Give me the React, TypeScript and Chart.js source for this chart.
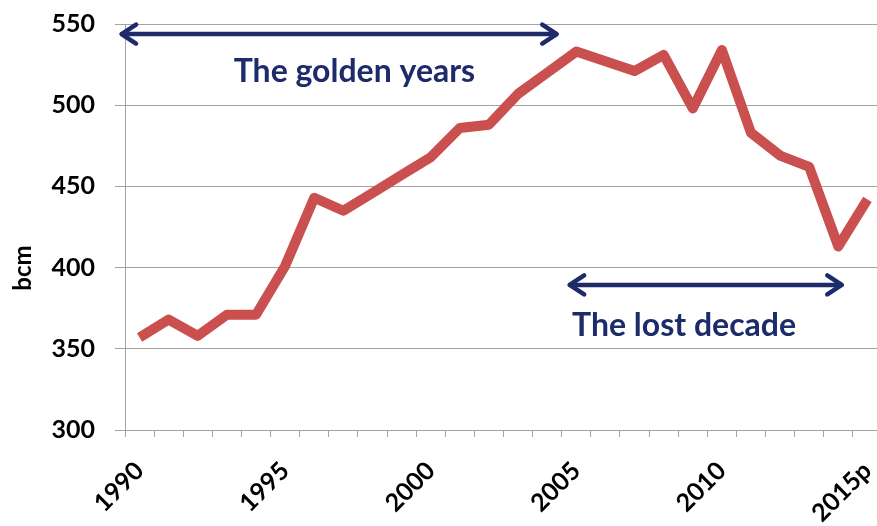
import React, { useEffect, useRef } from "react";
import { Chart, registerables } from "chart.js";

Chart.register(...registerables);

const years = [
  "1990", "1991", "1992", "1993", "1994", "1995", "1996", "1997", "1998", "1999",
  "2000", "2001", "2002", "2003", "2004", "2005", "2006", "2007", "2008", "2009",
  "2010", "2011", "2012", "2013", "2014", "2015p",
];
const production = [
  357, 368, 358, 371, 371, 401, 443, 435, 446, 457,
  468, 486, 488, 507, 520, 533, 527, 521, 531, 498,
  534, 483, 469, 462, 413, 442,
];
const yTicks = [300, 350, 400, 450, 500, 550];
const axisTitle = "bcm";

// annotation arrows (category-index span at a value) and their captions
const golden = { from: -0.67, to: 14.38, value: 543.8, label: "The golden years", labelAt: 7.38, labelValue: 514.3 };
const lost = { from: 14.72, to: 24.17, value: 389.3, label: "The lost decade", labelAt: 18.7, labelValue: 358 };

const NAVY = "#1d2b6a";
const RED = "#c9504f";
const GRID = "#a3a3a3";
const FONT = "Lato, 'Open Sans', sans-serif";

function drawArrow(ctx: CanvasRenderingContext2D, x1: number, x2: number, y: number) {
  ctx.save();
  ctx.strokeStyle = NAVY;
  ctx.lineWidth = 4.5;
  ctx.lineCap = "round";
  ctx.lineJoin = "round";
  ctx.beginPath();
  ctx.moveTo(x1 + 2, y);
  ctx.lineTo(x2 - 2, y);
  ctx.stroke();
  const h = 16, w = 9.5;
  ctx.beginPath();
  ctx.moveTo(x1 + h, y - w);
  ctx.lineTo(x1 + 1.5, y);
  ctx.lineTo(x1 + h, y + w);
  ctx.moveTo(x2 - h, y - w);
  ctx.lineTo(x2 - 1.5, y);
  ctx.lineTo(x2 - h, y + w);
  ctx.stroke();
  ctx.restore();
}

const annotationPlugin = {
  id: "annotations",
  afterDatasetsDraw(chart: any) {
    const ctx = chart.ctx as CanvasRenderingContext2D;
    const xs = chart.scales.x;
    const ys = chart.scales.y;
    for (const a of [golden, lost]) {
      const x1 = xs.getPixelForValue(a.from);
      const x2 = xs.getPixelForValue(a.to);
      const y = ys.getPixelForValue(a.value);
      drawArrow(ctx, x1, x2, y);
      ctx.save();
      ctx.fillStyle = NAVY;
      ctx.font = `bold 32px ${FONT}`;
      ctx.textAlign = "center";
      ctx.textBaseline = "alphabetic";
      ctx.fillText(a.label, xs.getPixelForValue(a.labelAt), ys.getPixelForValue(a.labelValue));
      ctx.restore();
    }
    // vertical axis title
    ctx.save();
    ctx.translate(23, 268);
    ctx.rotate(-Math.PI / 2);
    ctx.fillStyle = "#000";
    ctx.font = `bold 24px ${FONT}`;
    ctx.textAlign = "center";
    ctx.textBaseline = "middle";
    ctx.fillText(axisTitle, 0, 0);
    ctx.restore();
  },
};

export default function App() {
  const ref = useRef<HTMLCanvasElement>(null);
  useEffect(() => {
    if (!ref.current) return;
    const chart = new Chart(ref.current, {
      type: "line",
      data: {
        labels: years,
        datasets: [
          {
            data: production,
            borderColor: RED,
            borderWidth: 10,
            borderJoinStyle: "round",
            borderCapStyle: "butt",
            pointRadius: 0,
            tension: 0,
            fill: false,
          },
        ],
      },
      options: {
        animation: false,
        responsive: false,
        layout: { padding: { top: 24, left: 0, right: 0, bottom: 0 } },
        plugins: { legend: { display: false }, tooltip: { enabled: false } },
        scales: {
          x: {
            type: "category",
            offset: true,
            grid: {
              offset: true,
              drawOnChartArea: false,
              drawTicks: true,
              tickLength: 7,
              color: GRID,
            },
            border: { color: GRID, width: 1 },
            ticks: {
              autoSkip: false,
              maxRotation: 45,
              minRotation: 45,
              labelOffset: 0,
              padding: 19,
              color: "#000",
              font: { family: FONT, weight: "bold", size: 25 },
              callback: (_v: any, i: number) => (i % 5 === 0 ? years[i] : ""),
            },
            afterFit: (s: any) => {
              s.height = 96;
              s.paddingLeft = 0;
              s.paddingRight = 0;
            },
          },
          y: {
            min: 300,
            max: 550,
            afterBuildTicks: (s: any) => {
              s.ticks = yTicks.map((v) => ({ value: v }));
            },
            grid: { color: GRID, tickLength: 10, lineWidth: 1 },
            border: { color: GRID, width: 1 },
            ticks: {
              padding: 20,
              color: "#000",
              font: { family: FONT, weight: "bold", size: 25 },
            },
            afterFit: (s: any) => {
              s.width = 125;
              s.paddingTop = 0;
              s.paddingBottom = 0;
            },
          },
        },
      },
      plugins: [annotationPlugin],
    });
    return () => chart.destroy();
  }, []);
  return (
    <div style={{ position: "fixed", left: 0, top: 0, width: 877, height: 526, overflow: "hidden", background: "#fff" }}>
      <canvas ref={ref} width={882} height={526} style={{ width: 882, height: 526, display: "block" }} />
    </div>
  );
}
